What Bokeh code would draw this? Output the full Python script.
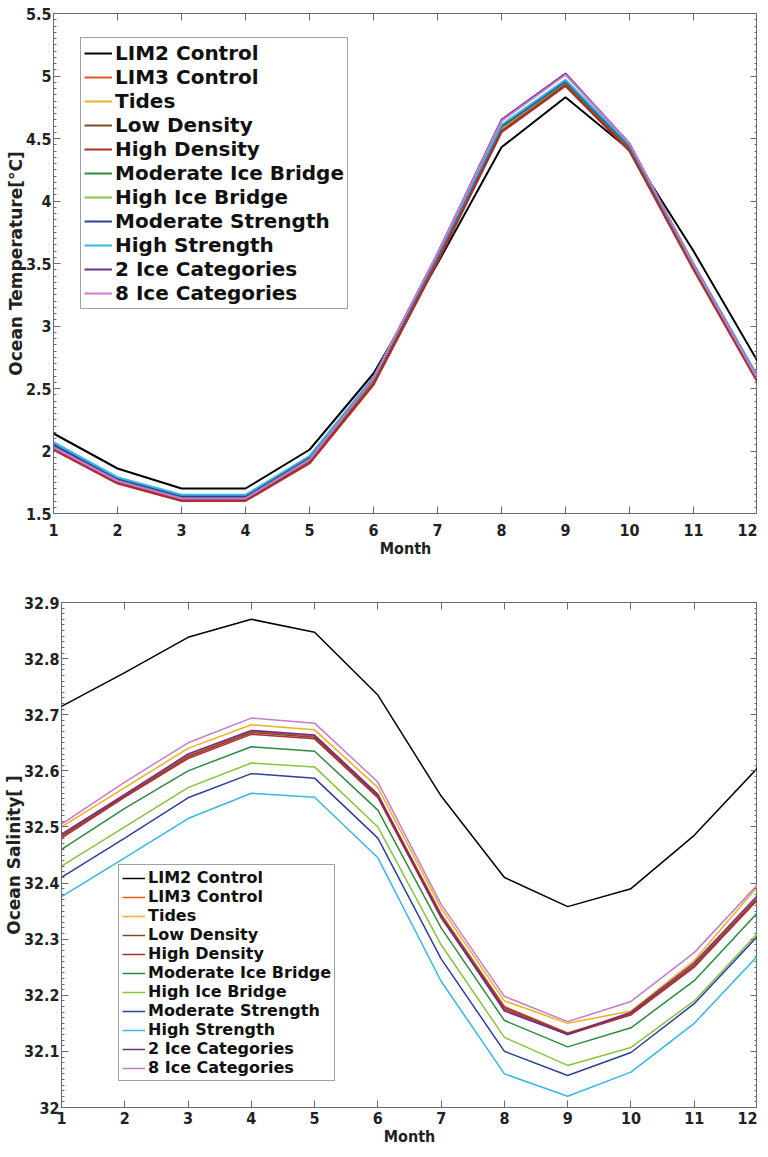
from bokeh.plotting import figure
from bokeh.models import (Range1d, LinearAxis, FixedTicker, SingleIntervalTicker,
                          CustomJSTickFormatter, Legend)
from bokeh.embed import file_html
from bokeh.resources import INLINE

months = list(range(1, 13))

series_names = ["LIM2 Control", "LIM3 Control", "Tides", "Low Density", "High Density",
                "Moderate Ice Bridge", "High Ice Bridge", "Moderate Strength",
                "High Strength", "2 Ice Categories", "8 Ice Categories"]
series_colors = ["#000000", "#E0561F", "#EDB120", "#7B4A2C", "#B5282C",
                 "#2E8B3E", "#86C63A", "#2B3F9E", "#33B8E8", "#6E2C8C", "#C47CCB"]

temp_lim2 = [2.14, 1.86, 1.70, 1.70, 2.01, 2.62, 3.50, 4.43, 4.83, 4.41, 3.60, 2.72]
temp_lim3 = [2.02, 1.75, 1.61, 1.61, 1.91, 2.54, 3.52, 4.56, 4.93, 4.40, 3.46, 2.56]
temp_tides = [2.03, 1.76, 1.62, 1.62, 1.92, 2.56, 3.54, 4.58, 4.95, 4.42, 3.47, 2.57]
temp_lowdens = [2.02, 1.75, 1.61, 1.61, 1.91, 2.54, 3.52, 4.56, 4.93, 4.41, 3.46, 2.56]
temp_highdens = [2.01, 1.74, 1.60, 1.60, 1.90, 2.53, 3.51, 4.55, 4.92, 4.40, 3.45, 2.55]
temp_modbridge = [2.04, 1.77, 1.63, 1.63, 1.93, 2.57, 3.55, 4.59, 4.95, 4.43, 3.48, 2.58]
temp_highbridge = [2.05, 1.78, 1.64, 1.64, 1.94, 2.59, 3.56, 4.60, 4.96, 4.44, 3.49, 2.59]
temp_modstr = [2.05, 1.78, 1.64, 1.64, 1.95, 2.58, 3.56, 4.60, 4.96, 4.44, 3.49, 2.59]
temp_highstr = [2.07, 1.79, 1.65, 1.65, 1.96, 2.59, 3.57, 4.61, 4.97, 4.45, 3.50, 2.60]
temp_cat2 = [2.03, 1.76, 1.62, 1.62, 1.93, 2.58, 3.58, 4.65, 5.02, 4.46, 3.49, 2.58]
temp_cat8 = [2.03, 1.76, 1.62, 1.62, 1.93, 2.58, 3.58, 4.64, 5.01, 4.46, 3.49, 2.58]

sal_lim2 = [32.715, 32.775, 32.838, 32.870, 32.847, 32.735, 32.555, 32.410, 32.358, 32.390, 32.485, 32.605]
sal_lim3 = [32.485, 32.557, 32.627, 32.670, 32.662, 32.557, 32.345, 32.180, 32.133, 32.168, 32.255, 32.375]
sal_tides = [32.500, 32.570, 32.640, 32.682, 32.673, 32.570, 32.355, 32.190, 32.150, 32.172, 32.262, 32.394]
sal_lowdens = [32.483, 32.555, 32.625, 32.668, 32.660, 32.555, 32.342, 32.178, 32.132, 32.167, 32.253, 32.372]
sal_highdens = [32.480, 32.553, 32.622, 32.665, 32.657, 32.552, 32.338, 32.175, 32.130, 32.165, 32.250, 32.370]
sal_modbridge = [32.460, 32.533, 32.600, 32.643, 32.635, 32.530, 32.320, 32.155, 32.108, 32.142, 32.226, 32.347]
sal_highbridge = [32.430, 32.500, 32.570, 32.614, 32.607, 32.500, 32.290, 32.125, 32.075, 32.107, 32.190, 32.310]
sal_modstr = [32.410, 32.480, 32.552, 32.595, 32.587, 32.480, 32.265, 32.100, 32.057, 32.098, 32.185, 32.305]
sal_highstr = [32.376, 32.445, 32.515, 32.560, 32.553, 32.445, 32.225, 32.060, 32.020, 32.063, 32.150, 32.270]
sal_cat2 = [32.487, 32.558, 32.630, 32.672, 32.664, 32.558, 32.340, 32.172, 32.130, 32.170, 32.258, 32.378]
sal_cat8 = [32.505, 32.580, 32.650, 32.694, 32.685, 32.580, 32.362, 32.198, 32.153, 32.189, 32.276, 32.397]

temp_series = [temp_lim2, temp_lim3, temp_tides, temp_lowdens, temp_highdens, temp_modbridge,
               temp_highbridge, temp_modstr, temp_highstr, temp_cat2, temp_cat8]
sal_series = [sal_lim2, sal_lim3, sal_tides, sal_lowdens, sal_highdens, sal_modbridge,
              sal_highbridge, sal_modstr, sal_highstr, sal_cat2, sal_cat8]

TICK_FONT = "DejaVu Sans Condensed"
AX_COLOR = "#6b6b6b"
fmt = CustomJSTickFormatter(code="return String(+tick.toFixed(2));")
blank = CustomJSTickFormatter(code="return '';")


def style_axis(ax, labels=True):
    ax.axis_line_color = AX_COLOR
    ax.major_tick_line_color = AX_COLOR
    ax.minor_tick_line_color = AX_COLOR
    ax.major_tick_in = 7
    ax.major_tick_out = 0
    ax.minor_tick_in = 3
    ax.minor_tick_out = 0
    ax.major_label_text_font = TICK_FONT
    ax.major_label_text_font_style = "bold"
    ax.major_label_text_font_size = "16px"
    ax.major_label_text_color = "#222222"
    ax.axis_label_text_font = TICK_FONT
    ax.axis_label_text_font_style = "bold"
    ax.axis_label_text_font_size = "16px"
    ax.axis_label_text_color = "#222222"
    if not labels:
        ax.formatter = blank
        ax.major_label_standoff = 0


def make_panel(series, y0, y1, interval, ylabel, height, border_left, border_top, border_bottom,
               x_standoff, legend_loc, legend_font, legend_lh, legend_spacing, legend_pad,
               glyph_w, lw):
    p = figure(width=757, height=height, output_backend="svg", toolbar_location=None,
               x_range=Range1d(1, 12), y_range=Range1d(y0, y1),
               min_border_left=border_left, min_border_right=0,
               min_border_top=border_top, min_border_bottom=border_bottom,
               x_axis_location=None, y_axis_location=None)
    p.xgrid.visible = False
    p.ygrid.visible = False
    p.outline_line_color = AX_COLOR
    p.outline_line_width = 1

    xt = FixedTicker(ticks=months, minor_ticks=[])
    xb = LinearAxis(ticker=xt, axis_label="Month")
    style_axis(xb)
    xb.major_label_standoff = x_standoff
    xb.axis_label_standoff = 0
    p.add_layout(xb, "below")
    xa = LinearAxis(ticker=xt)
    style_axis(xa, labels=False)
    p.add_layout(xa, "above")

    yt = SingleIntervalTicker(interval=interval, num_minor_ticks=10)
    yl = LinearAxis(ticker=yt, formatter=fmt, axis_label=ylabel)
    style_axis(yl)
    yl.axis_label_text_font = "DejaVu Sans"
    yl.axis_label_text_font_size = "17px"
    yl.major_label_standoff = 2
    yl.axis_label_standoff = -3
    p.add_layout(yl, "left")
    yr = LinearAxis(ticker=yt)
    style_axis(yr, labels=False)
    p.add_layout(yr, "right")

    items = []
    for name, col, vals in zip(series_names, series_colors, series):
        r = p.line(months, vals, line_color=col, line_width=lw)
        items.append((name, [r]))

    leg = Legend(items=items, location=legend_loc)
    leg.label_text_font = "DejaVu Sans"
    leg.label_text_font_style = "bold"
    leg.label_text_font_size = legend_font
    leg.label_text_color = "#111111"
    leg.label_height = legend_lh
    leg.glyph_height = legend_lh
    leg.glyph_width = glyph_w
    leg.label_standoff = 3
    leg.spacing = legend_spacing
    leg.padding = legend_pad
    leg.margin = 0
    leg.border_line_color = "#444444"
    leg.border_line_width = 1
    leg.background_fill_alpha = 1.0
    p.add_layout(leg, "center")
    return p


p1 = make_panel(temp_series, 1.5, 5.5, 0.5, "Ocean Temperature[°C]", 577, 53, 13, 64, 10,
                (27, 204), "20px", 20, 0, 3, 28, 2)
p2 = make_panel(sal_series, 32.0, 32.9, 0.1, "Ocean Salinity[ ]", 572, 56, 25, 42, 4,
                (57, 26), "16px", 16, 0, 3, 23, 1.5)

open("out.html", "w").write(file_html([p1, p2], INLINE))
